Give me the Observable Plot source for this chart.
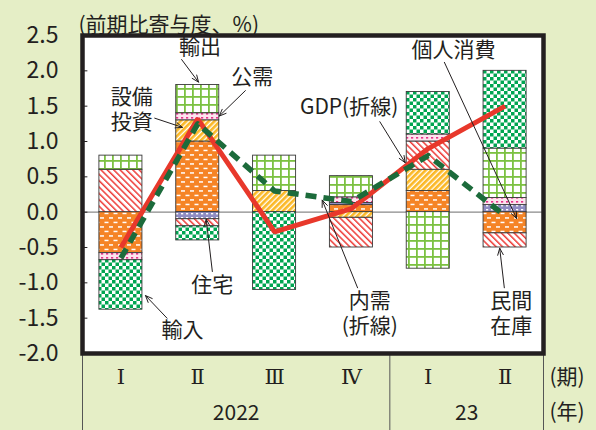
<!DOCTYPE html>
<html><head><meta charset="utf-8">
<script src="https://cdn.jsdelivr.net/npm/d3@7"></script>
<script src="https://cdn.jsdelivr.net/npm/@observablehq/plot@0.6"></script>
<style>
html,body{margin:0;padding:0;background:#e5eec6;}
#chart svg{display:block;}
</style></head><body><div id="chart"></div>
<script>
// ---- data ----
const quarters = ["Ⅰ","Ⅱ","Ⅲ","Ⅳ","Ⅰ","Ⅱ"];
const yearLabels = ["2022","23"];
const yearCenters = [1.5, 4.5];
const yearSeparators = [-0.5, 3.5, 5.5];
const series = ["個人消費","住宅","設備投資","民間在庫","公需","輸出","輸入"];
const consumption  = [-0.58, 1.00,  0.00,  0.10,  0.30, -0.30];
const housing      = [ 0.00,-0.10,  0.00,  0.03,  0.00,  0.10];
const capex        = [ 0.00, 0.30,  0.30, -0.08,  0.30,  0.00];
const inventory    = [ 0.60,-0.10,  0.00, -0.42,  0.40, -0.20];
const publicDemand = [-0.10, 0.10,  0.00,  0.08,  0.10,  0.10];
const exportsC     = [ 0.20, 0.40,  0.50,  0.30, -0.80,  0.70];
const importsC     = [-0.70,-0.20, -1.10,  0.00,  0.60,  1.10];
const gdp          = [-0.50, 1.32, -0.28,  0.05,  0.90,  1.50];
const domestic     = [-0.65, 1.25,  0.30,  0.15,  0.80, -0.05];
const yTicks = [-2.0,-1.5,-1.0,-0.5,0.0,0.5,1.0,1.5,2.0,2.5];
const title = "(前期比寄与度、%)";
const periodUnit = "(期)";
const yearUnit = "(年)";

// labels placed in data units (quarter index, value)
const labels = [
  {t:"輸出", x:1.03, y:2.34},
  {t:"公需", x:1.71, y:1.91},
  {t:"設備", x:0.14, y:1.62},
  {t:"投資", x:0.14, y:1.27},
  {t:"GDP(折線)", x:2.97, y:1.49},
  {t:"個人消費", x:4.33, y:2.29},
  {t:"住宅", x:1.19, y:-1.04},
  {t:"輸入", x:0.80, y:-1.67},
  {t:"内需", x:3.24, y:-1.26},
  {t:"(折線)", x:3.24, y:-1.62},
  {t:"民間", x:5.08, y:-1.26},
  {t:"在庫", x:5.08, y:-1.62}
];
const arrows = [
  {x1:0.79, y1:2.16, x2:1.01, y2:1.84},
  {x1:1.62, y1:1.72, x2:1.28, y2:1.36},
  {x1:0.44, y1:1.33, x2:0.80, y2:1.20},
  {x1:3.37, y1:1.28, x2:3.70, y2:0.70},
  {x1:4.21, y1:2.12, x2:5.15, y2:-0.09},
  {x1:1.19, y1:-0.84, x2:1.11, y2:-0.10},
  {x1:0.60, y1:-1.50, x2:0.32, y2:-1.18},
  {x1:3.08, y1:-1.07, x2:2.62, y2:0.17},
  {x1:4.99, y1:-1.07, x2:4.93, y2:-0.51}
];

// ---- build stacked table ----
const values = {"個人消費":consumption,"住宅":housing,"設備投資":capex,"民間在庫":inventory,"公需":publicDemand,"輸出":exportsC,"輸入":importsC};
const patId = {"個人消費":"url(#p-cons)","住宅":"url(#p-hous)","設備投資":"url(#p-capx)","民間在庫":"url(#p-inv)","公需":"url(#p-pub)","輸出":"url(#p-exp)","輸入":"url(#p-imp)"};
const rows = [];
quarters.forEach((q, i) => {
  let pos = 0, neg = 0;
  for (const s of series) {
    const v = values[s][i];
    if (!v) continue;
    if (v > 0) { rows.push({i, s, y1: pos, y2: pos + v}); pos += v; }
    else { rows.push({i, s, y1: neg, y2: neg + v}); neg += v; }
  }
});
const idx = quarters.map((_, i) => i);
const half = 0.28;
const ink = "#231f20";
const font = "'Noto Sans CJK JP', 'Noto Sans', sans-serif";

const plot = Plot.plot({
  width: 596, height: 430,
  marginLeft: 82, marginRight: 53, marginTop: 35, marginBottom: 77,
  style: {background: "#e5eec6", fontFamily: font, color: ink, overflow: "visible"},
  x: {domain: [-0.5, 5.5], axis: null},
  y: {domain: [-2, 2.5], axis: null},
  color: {type: "identity"},
  marks: [
    Plot.frame({fill: "white", stroke: null}),
    Plot.ruleY([0], {stroke: "#8a8a8a", strokeWidth: 1.3}),
    Plot.rect(rows, {x1: d => d.i - half, x2: d => d.i + half, y1: "y1", y2: "y2", fill: d => patId[d.s], stroke: "#3a3a3a", strokeWidth: 0.9}),
    Plot.line(idx, {x: d => d, y: d => gdp[d], stroke: "#e8382b", strokeWidth: 5, strokeLinejoin: "miter", strokeLinecap: "butt"}),
    Plot.line(idx, {x: d => d, y: d => domestic[d], stroke: "#1c6b3b", strokeWidth: 5.5, strokeDasharray: "11,7", strokeLinecap: "butt"}),
    Plot.ruleY(yTicks, {x1: -0.5, x2: -0.43, stroke: ink, strokeWidth: 1}),
    Plot.arrow(arrows, {x1: "x1", y1: "y1", x2: "x2", y2: "y2", stroke: ink, strokeWidth: 1, headLength: 11, headAngle: 45}),
    Plot.text(labels, {x: "x", y: "y", text: "t", fontSize: 21, fill: ink}),
    Plot.text(yTicks, {frameAnchor: "left", y: d => d, text: d => d.toFixed(1), dx: -24, textAnchor: "end", fontSize: 23, fill: ink}),
    Plot.text([title], {frameAnchor: "top-left", text: d => d, dx: -4, dy: -18, textAnchor: "start", fontSize: 21, fill: ink}),
    Plot.ruleX(yearSeparators, {y1: -2, y2: -3.2, stroke: "#555", strokeWidth: 1}),
    Plot.text(idx, {x: d => d, frameAnchor: "bottom", text: d => quarters[d], dy: 30, fontSize: 21, fill: ink, fontFamily: "'DejaVu Serif', serif"}),
    Plot.text(yearCenters, {x: d => d, frameAnchor: "bottom", text: (d, i) => yearLabels[i], dy: 66, fontSize: 21, fill: ink}),
    Plot.text([periodUnit], {frameAnchor: "bottom-right", text: d => d, dx: 6, dy: 30, textAnchor: "start", fontSize: 21, fill: ink}),
    Plot.text([yearUnit], {frameAnchor: "bottom-right", text: d => d, dx: 6, dy: 65, textAnchor: "start", fontSize: 21, fill: ink}),
    Plot.frame({stroke: ink, strokeWidth: 4.5})
  ]
});

const defs = `
<pattern id="p-cons" width="9" height="9" patternUnits="userSpaceOnUse">
  <rect width="9" height="9" fill="#f58426"/>
  <rect x="1" y="1.2" width="4" height="1.5" fill="#fff"/>
  <rect x="5.5" y="5.7" width="4" height="1.5" fill="#fff"/>
  <rect x="-3.5" y="5.7" width="4" height="1.5" fill="#fff"/>
</pattern>
<pattern id="p-hous" width="5" height="4" patternUnits="userSpaceOnUse">
  <rect width="5" height="4" fill="#8f8cc2"/>
  <rect x="1" y="1" width="2.2" height="1.4" fill="#fff"/>
</pattern>
<pattern id="p-capx" width="4" height="4" patternUnits="userSpaceOnUse" patternTransform="rotate(45)">
  <rect width="4" height="4" fill="#fff"/>
  <rect width="2.7" height="4" fill="#fbb826"/>
</pattern>
<pattern id="p-inv" width="4.5" height="4.5" patternUnits="userSpaceOnUse" patternTransform="rotate(-45)">
  <rect width="4.5" height="4.5" fill="#fff"/>
  <rect width="1.5" height="4.5" fill="#ee3a36"/>
</pattern>
<pattern id="p-pub" width="5" height="4" patternUnits="userSpaceOnUse">
  <rect width="5" height="4" fill="#fde4ee"/>
  <rect x="1" y="1" width="2.2" height="1.6" fill="#e6338a"/>
</pattern>
<pattern id="p-exp" width="8" height="8" patternUnits="userSpaceOnUse">
  <rect width="8" height="8" fill="#fff"/>
  <rect x="0" y="0" width="8" height="1.8" fill="#7cc142"/>
  <rect x="0" y="0" width="1.8" height="8" fill="#7cc142"/>
</pattern>
<pattern id="p-imp" width="7" height="7" patternUnits="userSpaceOnUse">
  <rect width="7" height="7" fill="#fff"/>
  <rect x="0" y="0" width="3.5" height="3.5" fill="#00a551"/>
  <rect x="3.5" y="3.5" width="3.5" height="3.5" fill="#00a551"/>
</pattern>`;
d3.select(plot).insert("defs", ":first-child").html(defs);
document.getElementById("chart").appendChild(plot);
</script>
</body></html>
